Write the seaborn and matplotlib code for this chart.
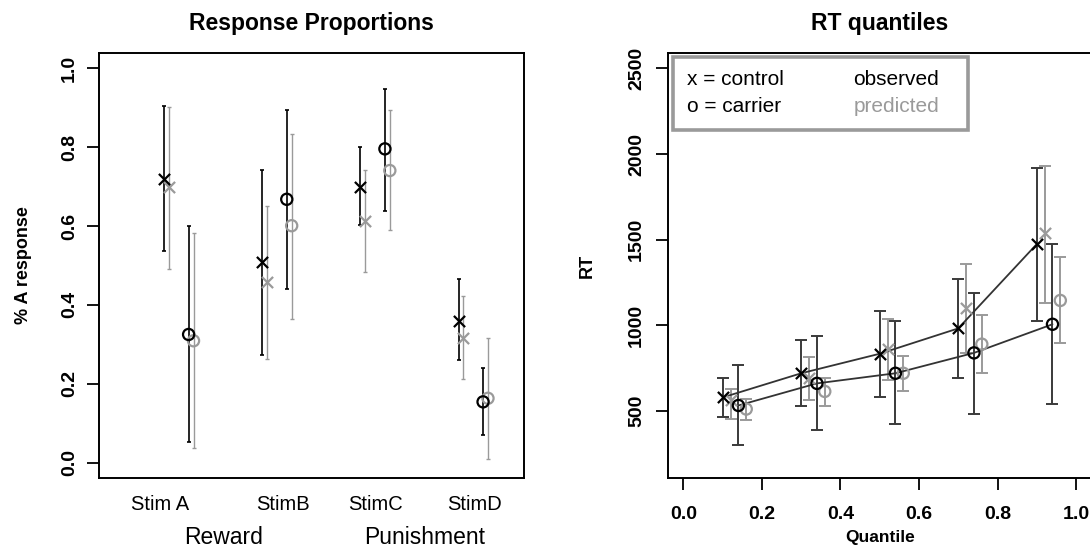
import numpy as np
import pandas as pd
import seaborn as sns
from matplotlib import pyplot as plt
from matplotlib.patches import Rectangle
from matplotlib.transforms import blended_transform_factory

# ---- left panel: response proportions ----
stims = ["Stim A", "StimB", "StimC", "StimD"]
groups = ["Reward", "Punishment"]

ctrl_obs = [0.72, 0.51, 0.70, 0.36]
ctrl_obs_lo = [0.536, 0.272, 0.603, 0.259]
ctrl_obs_hi = [0.905, 0.743, 0.802, 0.467]
ctrl_pred = [0.70, 0.458, 0.613, 0.317]
ctrl_pred_lo = [0.492, 0.262, 0.484, 0.211]
ctrl_pred_hi = [0.902, 0.651, 0.742, 0.422]
carr_obs = [0.325, 0.668, 0.796, 0.154]
carr_obs_lo = [0.052, 0.44, 0.638, 0.069]
carr_obs_hi = [0.60, 0.895, 0.948, 0.239]
carr_pred = [0.309, 0.601, 0.741, 0.163]
carr_pred_lo = [0.036, 0.365, 0.589, 0.009]
carr_pred_hi = [0.583, 0.834, 0.895, 0.316]

# ---- right panel: RT quantiles ----
quantiles = [0.1, 0.3, 0.5, 0.7, 0.9]
rt_ctrl_obs = [580, 721, 835, 983, 1475]
rt_ctrl_obs_lo = [465, 529, 582, 692, 1028]
rt_ctrl_obs_hi = [692, 917, 1085, 1273, 1921]
rt_carr_obs = [533, 662, 721, 840, 1007]
rt_carr_obs_lo = [302, 388, 424, 486, 543]
rt_carr_obs_hi = [768, 936, 1024, 1187, 1473]
rt_ctrl_pred = [567, 696, 864, 1101, 1541]
rt_ctrl_pred_lo = [457, 567, 684, 840, 1134]
rt_ctrl_pred_hi = [627, 815, 1038, 1361, 1930]
rt_carr_pred = [512, 615, 721, 891, 1146]
rt_carr_pred_lo = [447, 529, 619, 721, 897]
rt_carr_pred_hi = [568, 692, 823, 1060, 1398]

sns.set_style("white")
plt.rcParams['font.family'] = ['Liberation Sans', 'DejaVu Sans']
plt.rcParams.update({"text.color": "black", "axes.labelcolor": "black",
                     "xtick.color": "black", "ytick.color": "black"})

OBS = "black"
PRED = "#9a9a9a"


def make_df(pieces):
    rows = []
    for x, vals, lo, hi, who, src in pieces:
        for xi, v, l, h in zip(x, vals, lo, hi):
            rows.append(dict(x=xi, y=v, lo=l, hi=h, who=who, src=src))
    return pd.DataFrame(rows)


fig = plt.figure(figsize=(10.9, 5.48), dpi=100)
ax1 = fig.add_axes([0.0911, 0.1272, 0.3899, 0.7766])
ax2 = fig.add_axes([0.6126, 0.1272, 0.389, 0.7766])

# left panel
pos = np.arange(1, len(stims) + 1)
df1 = make_df([
    (pos, ctrl_obs, ctrl_obs_lo, ctrl_obs_hi, "control", "observed"),
    (pos + 0.05, ctrl_pred, ctrl_pred_lo, ctrl_pred_hi, "control", "predicted"),
    (pos + 0.25, carr_obs, carr_obs_lo, carr_obs_hi, "carrier", "observed"),
    (pos + 0.30, carr_pred, carr_pred_lo, carr_pred_hi, "carrier", "predicted"),
])
for src, col, lw in [("predicted", PRED, 1.0), ("observed", OBS, 1.2)]:
    d = df1[df1.src == src]
    ax1.errorbar(d.x, d.y, yerr=[d.y - d.lo, d.hi - d.y], fmt="none",
                 ecolor=col, elinewidth=lw, capsize=1.2, capthick=lw, zorder=2)
for who, mk in [("control", "x"), ("carrier", "o")]:
    for src, col in [("predicted", PRED), ("observed", OBS)]:
        d = df1[(df1.who == who) & (df1.src == src)]
        sns.scatterplot(data=d, x="x", y="y", ax=ax1, marker=mk, s=65,
                        color=col if mk == "x" else "none",
                        edgecolor=col, linewidth=1.6, legend=False, zorder=3)

ax1.set_xlim(0.34, 4.67)
ax1.set_ylim(-0.04, 1.04)
ax1.set_yticks(np.arange(0, 1.01, 0.2))
ax1.set_yticklabels([f"{v:.1f}" for v in np.arange(0, 1.01, 0.2)],
                    fontweight="bold")
ax1.set_xticks([0.96, 2.21, 3.15, 4.16])
ax1.set_xticklabels(stims, fontsize=14.5)
ax1.tick_params(axis="x", length=0, pad=12)
ax1.tick_params(axis="y", left=True, length=8.3, width=1.3, labelsize=14,
                labelrotation=90, pad=7)
for lab in ax1.get_yticklabels():
    lab.set_va("center")
tr = blended_transform_factory(ax1.transData, ax1.transAxes)
for gx, g in zip([1.61, 3.65], groups):
    ax1.text(gx, -0.138, g, transform=tr, ha="center", va="center",
             fontsize=16.5)
ax1.set_xlabel("")
ax1.set_ylabel("% A response", fontsize=13, fontweight="bold", labelpad=21)
ax1.set_title("Response Proportions", fontsize=16.5, fontweight="bold",
              pad=16)

# right panel
q = np.array(quantiles)
df2 = make_df([
    (q, rt_ctrl_obs, rt_ctrl_obs_lo, rt_ctrl_obs_hi, "control", "observed"),
    (q + 0.02, rt_ctrl_pred, rt_ctrl_pred_lo, rt_ctrl_pred_hi, "control", "predicted"),
    (q + 0.04, rt_carr_obs, rt_carr_obs_lo, rt_carr_obs_hi, "carrier", "observed"),
    (q + 0.06, rt_carr_pred, rt_carr_pred_lo, rt_carr_pred_hi, "carrier", "predicted"),
])
for src, col in [("predicted", PRED), ("observed", "#3a3a3a")]:
    d = df2[df2.src == src]
    ax2.errorbar(d.x, d.y, yerr=[d.y - d.lo, d.hi - d.y], fmt="none",
                 ecolor=col, elinewidth=1.4, capsize=4.2, capthick=1.4, zorder=2)
obs2 = df2[df2.src == "observed"]
sns.lineplot(data=obs2, x="x", y="y", units="who", estimator=None,
             color="#333333", linewidth=1.3, ax=ax2, legend=False, zorder=3)
for who, mk in [("control", "x"), ("carrier", "o")]:
    for src, col in [("predicted", PRED), ("observed", OBS)]:
        d = df2[(df2.who == who) & (df2.src == src)]
        sns.scatterplot(data=d, x="x", y="y", ax=ax2, marker=mk, s=65,
                        color=col if mk == "x" else "none",
                        edgecolor=col, linewidth=1.6, legend=False, zorder=4)

ax2.set_xlim(-0.04, 1.04)
ax2.set_ylim(108, 2592)
ax2.set_xticks(np.arange(0, 1.01, 0.2))
ax2.set_xticklabels([f"{v:.1f}" for v in np.arange(0, 1.01, 0.2)],
                    fontweight="bold")
ax2.set_yticks([500, 1000, 1500, 2000, 2500])
ax2.set_yticklabels(["500", "1000", "1500", "2000", "2500"],
                    fontweight="bold")
ax2.tick_params(axis="x", bottom=True, length=8.3, width=1.3, labelsize=14,
                pad=11.5)
ax2.tick_params(axis="y", left=True, length=8.3, width=1.3, labelsize=14,
                labelrotation=90, pad=8)
for lab in ax2.get_yticklabels():
    lab.set_va("center")
ax2.set_xlabel("Quantile", fontsize=12.5, fontweight="bold", labelpad=5)
ax2.set_ylabel("RT", fontsize=13, fontweight="bold", labelpad=23)
ax2.set_title("RT quantiles", fontsize=16.5, fontweight="bold", pad=16)

# legend box
ax2.add_patch(Rectangle((0.0118, 0.8184), 0.6957, 0.1722, transform=ax2.transAxes,
                        fill=False, edgecolor="#9a9a9a", linewidth=2.6, zorder=5))
ax2.text(0.0446, 0.936, "x = control", transform=ax2.transAxes,
         fontsize=15, va="center", ha="left")
ax2.text(0.0446, 0.8747, "o = carrier", transform=ax2.transAxes,
         fontsize=15, va="center", ha="left")
ax2.text(0.4377, 0.936, "observed", transform=ax2.transAxes, color=OBS,
         fontsize=15, va="center", ha="left")
ax2.text(0.4377, 0.8747, "predicted", transform=ax2.transAxes, color=PRED,
         fontsize=15, va="center", ha="left")

for ax in (ax1, ax2):
    for sp in ax.spines.values():
        sp.set_visible(True)
        sp.set_color("black")
        sp.set_linewidth(1.4)

fig.savefig("out.png", dpi=100)
